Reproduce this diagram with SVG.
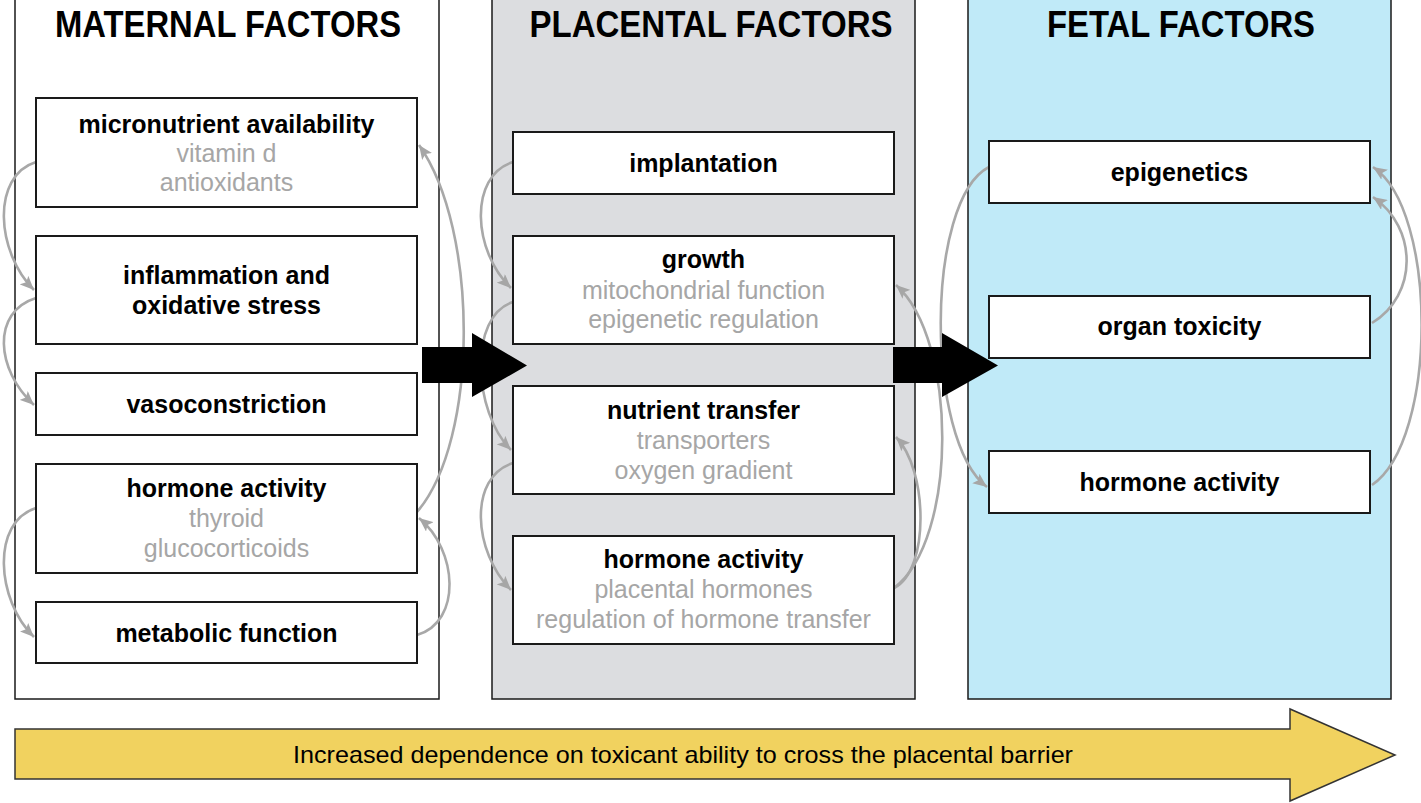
<svg xmlns="http://www.w3.org/2000/svg" width="1421" height="803" viewBox="0 0 1421 803">
<style>
.panel{stroke:#1a1a1a;stroke-width:1.5}
.box{fill:#fff;stroke:#1a1a1a;stroke-width:2}
.title{font-family:"Liberation Sans",Arial,sans-serif;font-weight:bold;font-size:36px;fill:#000;text-anchor:middle}
.lbl{font-family:"Liberation Sans",Arial,sans-serif;font-weight:bold;font-size:25px;fill:#000;text-anchor:middle}
.sub{font-family:"Liberation Sans",Arial,sans-serif;font-size:25px;fill:#a6a6a6;text-anchor:middle}
.con{fill:none;stroke:#a8a8a8;stroke-width:2.6;marker-end:url(#ah)}
.big{fill:#000}
.band{font-family:"Liberation Sans",Arial,sans-serif;font-size:24px;fill:#000;text-anchor:middle}
</style>
<defs>
<marker id="ah" markerUnits="userSpaceOnUse" markerWidth="15" markerHeight="12" refX="14" refY="6" orient="auto">
<path d="M0,0 L14,6 L0,12 L3,6 z" fill="#a6a6a6"/>
</marker>
</defs>
<rect width="1421" height="803" fill="#fff"/>

<g id="panel-maternal">
<rect class="panel" x="15" y="-2" width="424" height="701" fill="#fff"/>
<text class="title" x="228" y="37" textLength="346" lengthAdjust="spacingAndGlyphs">MATERNAL FACTORS</text>
</g>
<g id="panel-placental">
<rect class="panel" x="492" y="-2" width="423" height="701" fill="#dcdde0"/>
<text class="title" x="711" y="37" textLength="363" lengthAdjust="spacingAndGlyphs">PLACENTAL FACTORS</text>
</g>
<g id="panel-fetal">
<rect class="panel" x="968" y="-2" width="423" height="701" fill="#c0eaf8"/>
<text class="title" x="1181" y="37" textLength="268" lengthAdjust="spacingAndGlyphs">FETAL FACTORS</text>
</g>

<g id="connectors">
<path class="con" d="M36,162 C-9,176 -4,252 34,290"/>
<path class="con" d="M36,298 C-9,312 -4,370 34,405"/>
<path class="con" d="M36,508 C-9,522 -4,600 34,637"/>
<path class="con" d="M417,635 C462,622 458,550 419,518"/>
<path class="con" d="M417,512 C479,440 479,230 419,145"/>
<path class="con" d="M513,162 C468,176 473,252 511,288"/>
<path class="con" d="M513,302 C468,316 473,412 511,450"/>
<path class="con" d="M513,463 C468,477 473,552 511,590"/>
<path class="con" d="M894,588 C930,570 928,470 896,437"/>
<path class="con" d="M894,588 C958,540 958,340 896,285"/>
<path class="con" d="M989,167 C925,200 925,440 987,487"/>
<path class="con" d="M1372,323 C1418,295 1418,228 1373,197"/>
<path class="con" d="M1372,485 C1438,440 1438,210 1373,167"/>
</g>

<g id="arrow-maternal-placental">
<polygon class="big" points="422,347 472,347 472,333 527,365.5 472,397 472,383 422,383"/>
</g>
<g id="arrow-placental-fetal">
<polygon class="big" points="893,347 942,347 942,333 998,365.5 942,397 942,383 893,383"/>
</g>

<g id="node-micronutrient">
<rect class="box" x="36" y="98" width="381" height="109"/>
<text class="lbl" x="226.5" y="133">micronutrient availability</text>
<text class="sub" x="226.5" y="162">vitamin d</text>
<text class="sub" x="226.5" y="191">antioxidants</text>
</g>
<g id="node-inflammation">
<rect class="box" x="36" y="236" width="381" height="108"/>
<text class="lbl" x="226.5" y="284">inflammation and</text>
<text class="lbl" x="226.5" y="314">oxidative stress</text>
</g>
<g id="node-vasoconstriction">
<rect class="box" x="36" y="373" width="381" height="62"/>
<text class="lbl" x="226.5" y="413">vasoconstriction</text>
</g>
<g id="node-maternal-hormone">
<rect class="box" x="36" y="464" width="381" height="109"/>
<text class="lbl" x="226.5" y="497">hormone activity</text>
<text class="sub" x="226.5" y="527">thyroid</text>
<text class="sub" x="226.5" y="557">glucocorticoids</text>
</g>
<g id="node-metabolic">
<rect class="box" x="36" y="602" width="381" height="61"/>
<text class="lbl" x="226.5" y="642">metabolic function</text>
</g>

<g id="node-implantation">
<rect class="box" x="513" y="132" width="381" height="62"/>
<text class="lbl" x="703.5" y="172">implantation</text>
</g>
<g id="node-growth">
<rect class="box" x="513" y="236" width="381" height="108"/>
<text class="lbl" x="703.5" y="268">growth</text>
<text class="sub" x="703.5" y="299">mitochondrial function</text>
<text class="sub" x="703.5" y="328">epigenetic regulation</text>
</g>
<g id="node-nutrient">
<rect class="box" x="513" y="386" width="381" height="108"/>
<text class="lbl" x="703.5" y="419">nutrient transfer</text>
<text class="sub" x="703.5" y="449">transporters</text>
<text class="sub" x="703.5" y="479">oxygen gradient</text>
</g>
<g id="node-placental-hormone">
<rect class="box" x="513" y="536" width="381" height="108"/>
<text class="lbl" x="703.5" y="568">hormone activity</text>
<text class="sub" x="703.5" y="598">placental hormones</text>
<text class="sub" x="703.5" y="628">regulation of hormone transfer</text>
</g>

<g id="node-epigenetics">
<rect class="box" x="989" y="141" width="381" height="62"/>
<text class="lbl" x="1179.5" y="181">epigenetics</text>
</g>
<g id="node-organ">
<rect class="box" x="989" y="296" width="381" height="62"/>
<text class="lbl" x="1179.5" y="335">organ toxicity</text>
</g>
<g id="node-fetal-hormone">
<rect class="box" x="989" y="451" width="381" height="62"/>
<text class="lbl" x="1179.5" y="491">hormone activity</text>
</g>

<g id="band-arrow">
<polygon points="15,729 1290,729 1290,709 1395,755 1290,801 1290,779 15,779" fill="#f1d25f" stroke="#333" stroke-width="1.5"/>
<text class="band" x="683" y="763" textLength="780" lengthAdjust="spacingAndGlyphs">Increased dependence on toxicant ability to cross the placental barrier</text>
</g>
</svg>
